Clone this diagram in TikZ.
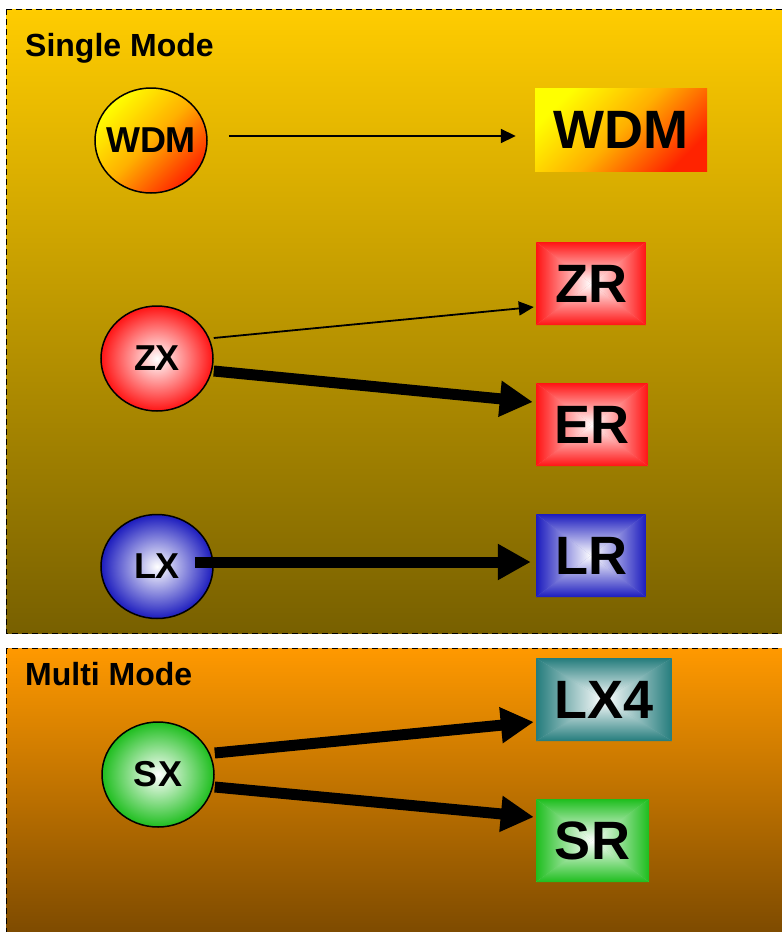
\documentclass[tikz,border=0pt]{standalone}
\usepackage{fontspec}
\setmainfont{Liberation Sans}
\usetikzlibrary{shapes.geometric,arrows.meta}

\definecolor{smTop}{RGB}{255,204,0}
\definecolor{smMid}{RGB}{198,158,0}
\definecolor{smBot}{RGB}{120,96,0}
\definecolor{mmTop}{RGB}{255,153,0}
\definecolor{mmMid}{RGB}{190,112,0}
\definecolor{mmBot}{RGB}{118,70,0}
\definecolor{portRed}{RGB}{255,20,20}
\definecolor{portBlue}{RGB}{28,28,190}
\definecolor{portGreen}{RGB}{30,190,30}
\definecolor{portTeal}{RGB}{36,124,124}
\definecolor{wdmYellow}{RGB}{255,255,0}
\definecolor{wdmOrange}{RGB}{255,175,0}
\definecolor{wdmRed}{RGB}{255,35,0}

\tikzset{
  x=1pt, y=-1pt,
  panel/.style={draw=black, line width=1pt, dash pattern=on 6pt off 4pt},
  paneltitle/.style={anchor=base west, inner sep=0pt,
    font=\bfseries\fontsize{32}{36}\selectfont},
  portfont/.style={font=\bfseries\fontsize{36}{40}\selectfont},
  txport/.style={ellipse, draw=black, line width=1.5pt, inner sep=0pt,
    minimum width=112pt, minimum height=105pt,
    inner color=white, outer color=#1, portfont},
  wdmfill/.style={top color=wdmYellow, bottom color=wdmRed,
    middle color=wdmOrange, shading angle=45},
  rxbox/.style={rectangle, inner sep=0pt, minimum height=83pt,
    font=\bfseries\fontsize{54}{60}\selectfont,
    path picture={
      \fill[#1!55!white] (path picture bounding box.south west)
        rectangle (path picture bounding box.north east);
      \shade[top color=#1, middle color=#1!45!white, bottom color=white]
        (path picture bounding box.north west) -- (path picture bounding box.north east)
        -- (path picture bounding box.center) -- cycle;
      \shade[top color=white, middle color=#1!45!white, bottom color=#1]
        (path picture bounding box.south west) -- (path picture bounding box.south east)
        -- (path picture bounding box.center) -- cycle;
      \shade[left color=#1, middle color=#1!45!white, right color=white]
        (path picture bounding box.north west) -- (path picture bounding box.south west)
        -- (path picture bounding box.center) -- cycle;
      \shade[left color=white, middle color=#1!45!white, right color=#1]
        (path picture bounding box.north east) -- (path picture bounding box.south east)
        -- (path picture bounding box.center) -- cycle;
    }},
  thinlink/.style={line width=1.8pt, -{Triangle[length=15pt,width=14pt]}},
  thicklink/.style={line width=11pt, -{Triangle[length=33pt,width=34pt]}},
}

\begin{document}
\begin{tikzpicture}
  \useasboundingbox (0,0) rectangle (782,932);
  \fill[white] (0,0) rectangle (782,932);
  \begin{scope}
    \clip (0,0) rectangle (782,932);
    % single mode panel
    \shade[top color=smTop, middle color=smMid, bottom color=smBot]
      (6,9) rectangle (800,633);
    \draw[panel] (6,9) rectangle (800,633);
    % multi mode panel
    \shade[top color=mmTop, middle color=mmMid, bottom color=mmBot]
      (6,648) rectangle (800,950);
    \draw[panel] (6,648) rectangle (800,950);
  \end{scope}

  \node[paneltitle] (smTitle) at (25,56) {Single Mode};
  \node[paneltitle] (mmTitle) at (25,685) {Multi Mode};

  % transmitters (the WDM label is wider than the ellipse allows, so it is a label)
  \node[ellipse, draw=black, line width=1.5pt, inner sep=0pt,
        minimum width=112pt, minimum height=105pt, wdmfill,
        label={[portfont, inner sep=0pt]center:WDM}] (wdmTx) at (151,140.5) {};
  \node[txport=portRed]   (zx) at (157,358.5) {ZX};
  \node[txport=portBlue, minimum height=104pt] (lx) at (157,566.5) {LX};
  \node[txport=portGreen] (sx) at (158,774.5) {SX};

  % receivers
  \node[rectangle, inner sep=0pt, minimum width=172pt, minimum height=83pt,
        wdmfill, font=\bfseries\fontsize{54}{60}\selectfont] (wdmRx) at (621,130) {WDM};
  \node[rxbox=portRed, minimum width=110pt]   (zr)  at (591,283.5) {ZR};
  \node[rxbox=portRed, minimum width=112pt]   (er)  at (592,424.5) {ER};
  \node[rxbox=portBlue, minimum width=110pt]  (lr)  at (591,555.5) {LR};
  \node[rxbox=portTeal, minimum width=136pt]  (lx4) at (604,699.5) {LX4};
  \node[rxbox=portGreen, minimum width=113pt] (sr)  at (592.5,840.5) {SR};

  % links
  \draw[thinlink]  ([xshift=21pt,yshift=4.5pt]wdmTx.east) -- ([xshift=-19pt,yshift=-6pt]wdmRx.west);
  \draw[thinlink]  ([yshift=20.5pt]zx.east) -- ([xshift=-2pt,yshift=-23.5pt]zr.west);
  \draw[thicklink] ([yshift=-12.5pt]zx.east) -- ([xshift=-3pt,yshift=22.5pt]er.west);
  \draw[thicklink] ([xshift=38pt,yshift=4.5pt]lx.center) -- ([xshift=-5pt,yshift=-6.5pt]lr.west);
  \draw[thicklink] ([yshift=21.5pt]sx.east) -- ([xshift=-2pt,yshift=-22.5pt]lx4.west);
  \draw[thicklink] ([yshift=-12.5pt]sx.east) -- ([xshift=-2pt,yshift=23.5pt]sr.west);
\end{tikzpicture}
\end{document}
